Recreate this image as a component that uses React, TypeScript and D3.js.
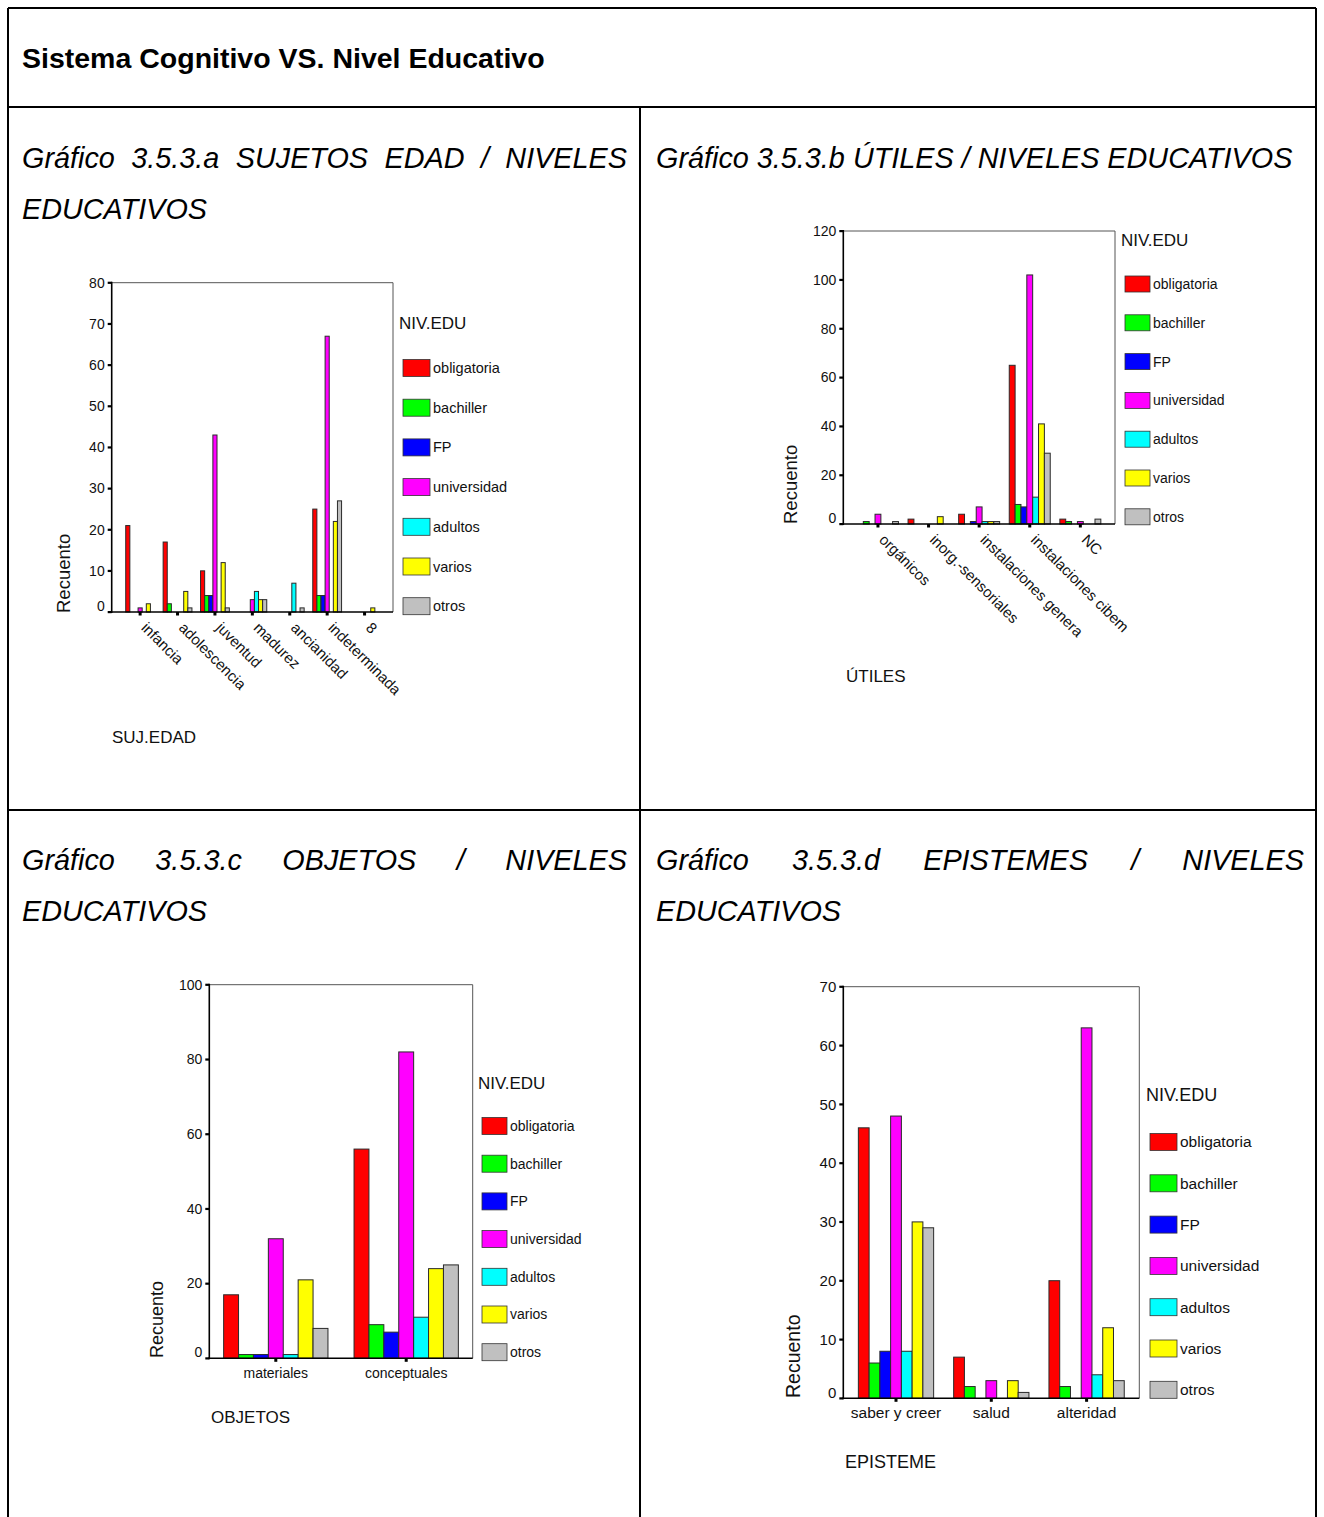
import React from "react";
import * as d3 from "d3";

// ---------- data ----------
const SERIES = ["obligatoria", "bachiller", "FP", "universidad", "adultos", "varios", "otros"];
const SERIES_COLORS = ["#ff0000", "#00ff00", "#0000ff", "#ff00ff", "#00ffff", "#ffff00", "#c0c0c0"];

const edadCategories = ["infancia", "adolescencia", "juventud", "madurez", "ancianidad", "indeterminada", "8"];
const edadValues = [
  [21, 0, 0, 1, 0, 2, 0],
  [17, 2, 0, 0, 0, 5, 1],
  [10, 4, 4, 43, 0, 12, 1],
  [0, 0, 0, 3, 5, 3, 3],
  [0, 0, 0, 0, 7, 0, 1],
  [25, 4, 4, 67, 0, 22, 27],
  [0, 0, 0, 0, 0, 1, 0],
];
const edadTicks = [0, 10, 20, 30, 40, 50, 60, 70, 80];

const utilesCategories = ["orgánicos", "inorg.-sensoriales", "instalaciones genera", "instalaciones cibem", "NC"];
const utilesValues = [
  [0, 1, 0, 4, 0, 0, 1],
  [2, 0, 0, 0, 0, 3, 0],
  [4, 0, 1, 7, 1, 1, 1],
  [65, 8, 7, 102, 11, 41, 29],
  [2, 1, 0, 1, 0, 0, 2],
];
const utilesTicks = [0, 20, 40, 60, 80, 100, 120];

const objetosCategories = ["materiales", "conceptuales"];
const objetosValues = [
  [17, 1, 1, 32, 1, 21, 8],
  [56, 9, 7, 82, 11, 24, 25],
];
const objetosTicks = [0, 20, 40, 60, 80, 100];

const epistemeCategories = ["saber y creer", "salud", "alteridad"];
const epistemeValues = [
  [46, 6, 8, 48, 8, 30, 29],
  [7, 2, 0, 3, 0, 3, 1],
  [20, 2, 0, 63, 4, 12, 3],
];
const epistemeTicks = [0, 10, 20, 30, 40, 50, 60, 70];

const FONT = "'Liberation Sans', Arial, Helvetica, sans-serif";

// ---------- helpers ----------
let _ctx: CanvasRenderingContext2D | null = null;
function measure(text: string, font: string): number {
  if (!_ctx) {
    const c = document.createElement("canvas");
    _ctx = c.getContext("2d");
  }
  if (!_ctx) return text.length * 14;
  _ctx.font = font;
  return _ctx.measureText(text).width;
}

function JustifiedLine({ words, x0, x1, y, size }: { words: string[]; x0: number; x1: number; y: number; size: number }) {
  const font = `italic ${size}px ${FONT}`;
  const widths = words.map((w) => measure(w, font));
  const total = d3.sum(widths);
  const gap = (x1 - x0 - total) / (words.length - 1);
  let x = x0;
  return (
    <g>
      {words.map((w, i) => {
        const el = (
          <text key={i} x={x} y={y} fontSize={size} fontStyle="italic" fontFamily={FONT}>
            {w}
          </text>
        );
        x += widths[i] + gap;
        return el;
      })}
    </g>
  );
}

type ChartProps = {
  categories: string[];
  values: number[][];
  ticks: number[];
  left: number;
  right: number;
  top: number;
  bottom: number;
  pad: number;
  groupFrac: number;
  rotate: boolean;
  tickFont: number;
  xFont: number;
  xTitle: string;
  xTitlePos: [number, number];
  titleFont: number;
  recPos: [number, number];
  recFont: number;
  legX: number;
  legTitleY: number;
  legFirstY: number;
  legStep: number;
  legW: number;
  legH: number;
  legFont: number;
  legTitleFont: number;
};

function BarChart(p: ChartProps) {
  const x = d3.scalePoint<string>().domain(p.categories).range([p.left, p.right]).padding(p.pad);
  const y = d3.scaleLinear().domain([0, p.ticks[p.ticks.length - 1]]).range([p.bottom, p.top]);
  const step = x.step();
  const groupW = step * p.groupFrac;
  const bw = groupW / SERIES.length;
  const xb = d3.scaleBand<number>().domain(d3.range(SERIES.length)).range([-groupW / 2, groupW / 2]).padding(0);

  return (
    <g fontFamily={FONT}>
      {/* bars */}
      {p.categories.map((c, ci) =>
        p.values[ci].map((v, si) =>
          v > 0 ? (
            <rect
              key={`${ci}-${si}`}
              x={(x(c) as number) + (xb(si) as number)}
              y={y(v)}
              width={bw}
              height={p.bottom - y(v)}
              fill={SERIES_COLORS[si]}
              stroke="#2a2a2a"
              strokeWidth={1}
            />
          ) : null
        )
      )}
      {/* frame */}
      <line x1={p.left} x2={p.right} y1={p.top} y2={p.top} stroke="#555" strokeWidth={1} />
      <line x1={p.right} x2={p.right} y1={p.top} y2={p.bottom} stroke="#555" strokeWidth={1} />
      <line x1={p.left} x2={p.left} y1={p.top - 1} y2={p.bottom + 1} stroke="#000" strokeWidth={1.6} />
      <line x1={p.left - 1} x2={p.right} y1={p.bottom} y2={p.bottom} stroke="#000" strokeWidth={1.6} />
      {/* y ticks */}
      {p.ticks.map((t) => (
        <g key={t}>
          <rect x={p.left - 4} y={y(t) - 1} width={4} height={2.2} fill="#000" />
          <text
            x={p.left - 7}
            y={y(t) - (t === 0 ? 6 : 0)}
            dy="0.35em"
            textAnchor="end"
            fontSize={p.tickFont}
            fill="#111"
          >
            {t}
          </text>
        </g>
      ))}
      {/* x ticks & labels */}
      {p.categories.map((c) => {
        const cx = x(c) as number;
        return (
          <g key={c}>
            <rect x={cx - 1.5} y={p.bottom} width={3} height={3.5} fill="#000" />
            {p.rotate ? (
              <text
                transform={`translate(${cx + 8},${p.bottom + 9}) rotate(45)`}
                dy="0.72em"
                fontSize={p.xFont}
                fill="#111"
              >
                {c}
              </text>
            ) : (
              <text x={cx} y={p.bottom + 20} textAnchor="middle" fontSize={p.xFont} fill="#111">
                {c}
              </text>
            )}
          </g>
        );
      })}
      {/* axis titles */}
      <text x={p.xTitlePos[0]} y={p.xTitlePos[1]} fontSize={p.titleFont} fill="#111">
        {p.xTitle}
      </text>
      <text transform={`translate(${p.recPos[0]},${p.recPos[1]}) rotate(-90)`} fontSize={p.recFont} fill="#111">
        Recuento
      </text>
      {/* legend */}
      <text x={p.legX - 4} y={p.legTitleY} dy="0.35em" fontSize={p.legTitleFont} fill="#111">
        NIV.EDU
      </text>
      {SERIES.map((s, i) => {
        const cy = p.legFirstY + i * p.legStep;
        return (
          <g key={s}>
            <rect
              x={p.legX}
              y={cy - p.legH / 2}
              width={p.legW}
              height={p.legH}
              fill={SERIES_COLORS[i]}
              stroke="#333"
              strokeWidth={0.8}
            />
            <text x={p.legX + p.legW + 3} y={cy} dy="0.35em" fontSize={p.legFont} fill="#111">
              {s}
            </text>
          </g>
        );
      })}
    </g>
  );
}

export default function App() {
  const W = 1324;
  const H = 1517;
  const SUB = 28.8;
  return (
    <svg
      width={W}
      height={H}
      style={{ position: "absolute", left: 0, top: 0, background: "#fff" }}
      fontFamily={FONT}
    >
      <rect x={0} y={0} width={W} height={H} fill="#fff" />
      {/* table lines */}
      <g stroke="#000" strokeWidth={2} fill="none">
        <line x1={8} x2={8} y1={8} y2={H} />
        <line x1={1316} x2={1316} y1={8} y2={H} />
        <line x1={8} x2={1316} y1={8} y2={8} />
        <line x1={8} x2={1316} y1={107} y2={107} />
        <line x1={8} x2={1316} y1={810} y2={810} />
        <line x1={640} x2={640} y1={107} y2={H} />
      </g>
      <text x={22} y={68} fontSize={28.5} fontWeight="bold" fill="#000">
        Sistema Cognitivo VS. Nivel Educativo
      </text>

      {/* subtitles */}
      <JustifiedLine words={["Gráfico", "3.5.3.a", "SUJETOS", "EDAD", "/", "NIVELES"]} x0={22} x1={627} y={168} size={SUB} />
      <text x={22} y={219} fontSize={SUB} fontStyle="italic">EDUCATIVOS</text>
      <text x={656} y={168} fontSize={SUB} fontStyle="italic">Gráfico 3.5.3.b ÚTILES / NIVELES EDUCATIVOS</text>
      <JustifiedLine words={["Gráfico", "3.5.3.c", "OBJETOS", "/", "NIVELES"]} x0={22} x1={627} y={870} size={SUB} />
      <text x={22} y={921} fontSize={SUB} fontStyle="italic">EDUCATIVOS</text>
      <JustifiedLine words={["Gráfico", "3.5.3.d", "EPISTEMES", "/", "NIVELES"]} x0={656} x1={1304} y={870} size={SUB} />
      <text x={656} y={921} fontSize={SUB} fontStyle="italic">EDUCATIVOS</text>

      <BarChart
        categories={edadCategories}
        values={edadValues}
        ticks={edadTicks}
        left={111.7}
        right={393}
        top={282.7}
        bottom={612}
        pad={0.76}
        groupFrac={0.77}
        rotate={true}
        tickFont={14}
        xFont={15}
        xTitle="SUJ.EDAD"
        xTitlePos={[112, 743]}
        titleFont={17}
        recPos={[70, 613]}
        recFont={18.5}
        legX={403}
        legTitleY={323}
        legFirstY={368}
        legStep={39.7}
        legW={27}
        legH={17}
        legFont={14.5}
        legTitleFont={17}
      />
      <BarChart
        categories={utilesCategories}
        values={utilesValues}
        ticks={utilesTicks}
        left={843.3}
        right={1115}
        top={231}
        bottom={524}
        pad={0.685}
        groupFrac={0.81}
        rotate={true}
        tickFont={14}
        xFont={15}
        xTitle="ÚTILES"
        xTitlePos={[846, 682]}
        titleFont={17}
        recPos={[797, 524]}
        recFont={18.5}
        legX={1125}
        legTitleY={240}
        legFirstY={284}
        legStep={38.8}
        legW={25}
        legH={16}
        legFont={14}
        legTitleFont={17}
      />
      <BarChart
        categories={objetosCategories}
        values={objetosValues}
        ticks={objetosTicks}
        left={209.3}
        right={472.7}
        top={984.7}
        bottom={1358.3}
        pad={0.51}
        groupFrac={0.8}
        rotate={false}
        tickFont={14}
        xFont={14}
        xTitle="OBJETOS"
        xTitlePos={[211, 1423]}
        titleFont={17}
        recPos={[163, 1358]}
        recFont={18}
        legX={482}
        legTitleY={1083}
        legFirstY={1126}
        legStep={37.7}
        legW={25}
        legH={17}
        legFont={14}
        legTitleFont={17}
      />
      <BarChart
        categories={epistemeCategories}
        values={epistemeValues}
        ticks={epistemeTicks}
        left={843.3}
        right={1139.3}
        top={986.7}
        bottom={1398.3}
        pad={0.553}
        groupFrac={0.79}
        rotate={false}
        tickFont={15}
        xFont={15.5}
        xTitle="EPISTEME"
        xTitlePos={[845, 1468]}
        titleFont={18}
        recPos={[800, 1398]}
        recFont={19.5}
        legX={1150}
        legTitleY={1095}
        legFirstY={1142}
        legStep={41.3}
        legW={27}
        legH={17}
        legFont={15.5}
        legTitleFont={18}
      />
    </svg>
  );
}
